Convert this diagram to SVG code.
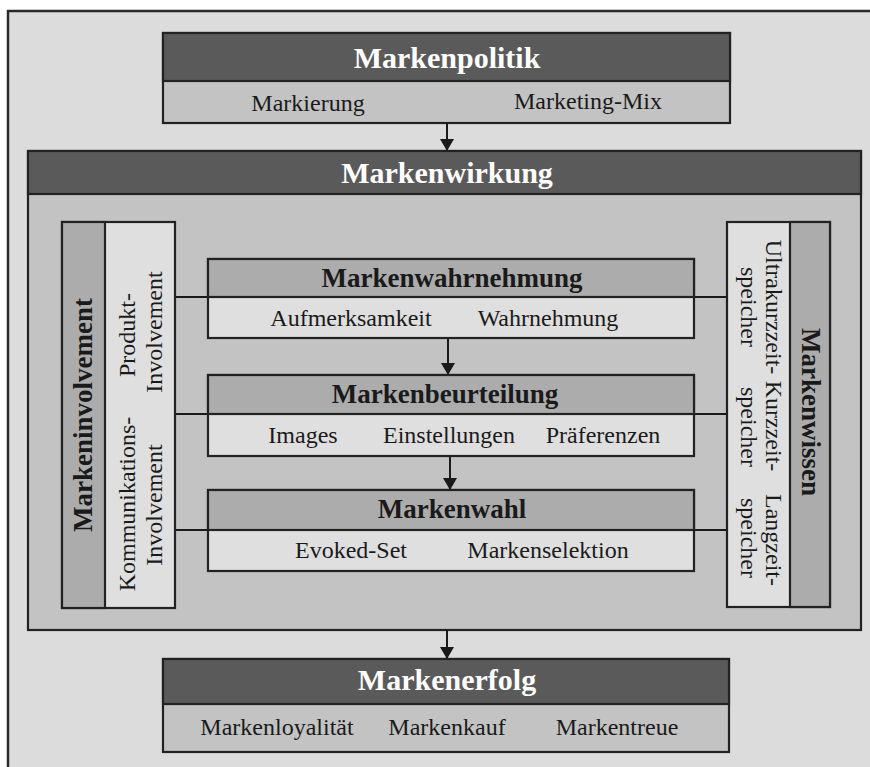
<svg xmlns="http://www.w3.org/2000/svg" width="870" height="767" viewBox="0 0 870 767">
  <defs>
    <marker id="arrow" viewBox="0 0 12 14" refX="12" refY="7" markerWidth="12" markerHeight="14" markerUnits="userSpaceOnUse" orient="auto">
      <path d="M0,0 L12,7 L0,14 Z" fill="#1a1a1a"/>
    </marker>
  </defs>
  <style>
    .box { stroke: #222; stroke-width: 2.2; }
    .dark { fill: #5a5a5a; }
    .mid { fill: #acacac; }
    .light { fill: #dfdfdf; }
    .body { fill: #c3c3c3; }
    text { font-family: "Liberation Serif", "Times New Roman", serif; text-anchor: middle; }
    .t1 { font-size: 30px; font-weight: bold; fill: #fff; }
    .t2 { font-size: 27px; font-weight: bold; fill: #1a1a1a; }
    .t3 { font-size: 24px; fill: #1a1a1a; }
    .conn { stroke: #1a1a1a; stroke-width: 2; fill: none; }
  </style>

  <!-- background frame -->
  <rect x="0" y="0" width="870" height="767" fill="#fff"/>
  <rect x="8" y="11" width="870" height="770" fill="#dcdcdc" stroke="#2a2a2a" stroke-width="2.5"/>

  <!-- Markenpolitik -->
  <g id="markenpolitik">
    <rect class="box body" x="163" y="33" width="567" height="90"/>
    <rect class="box dark" x="163" y="33" width="567" height="48"/>
    <text class="t1" x="447" y="68">Markenpolitik</text>
    <text class="t3" x="308" y="111">Markierung</text>
    <text class="t3" x="588" y="109">Marketing-Mix</text>
  </g>

  <!-- Markenwirkung container -->
  <g id="markenwirkung">
    <rect class="box body" x="28" y="151" width="833" height="479"/>
    <rect class="box dark" x="28" y="151" width="833" height="43"/>
    <text class="t1" x="447" y="183">Markenwirkung</text>
  </g>

  <!-- connectors -->
  <g id="connectors">
    <line class="conn" x1="447" y1="123" x2="447" y2="151" marker-end="url(#arrow)"/>
    <line class="conn" x1="448" y1="338" x2="448" y2="375" marker-end="url(#arrow)"/>
    <line class="conn" x1="450" y1="456" x2="450" y2="490" marker-end="url(#arrow)"/>
    <line class="conn" x1="447" y1="630" x2="447" y2="659" marker-end="url(#arrow)"/>
    <line class="conn" x1="175" y1="297" x2="208" y2="297"/>
    <line class="conn" x1="175" y1="414" x2="208" y2="414"/>
    <line class="conn" x1="175" y1="530" x2="208" y2="530"/>
    <line class="conn" x1="694" y1="297" x2="727" y2="297"/>
    <line class="conn" x1="694" y1="414" x2="727" y2="414"/>
    <line class="conn" x1="694" y1="530" x2="727" y2="530"/>
  </g>

  <!-- Markeninvolvement (left panel) -->
  <g id="markeninvolvement">
    <rect class="box light" x="62" y="222" width="113" height="386"/>
    <rect class="box mid" x="62" y="222" width="43" height="386"/>
    <text class="t2" transform="translate(92,415) rotate(-90)">Markeninvolvement</text>
    <text class="t3" transform="translate(135,335) rotate(-90)">Produkt-</text>
    <text class="t3" transform="translate(162,332) rotate(-90)">Involvement</text>
    <text class="t3" transform="translate(135,504) rotate(-90)">Kommunikations-</text>
    <text class="t3" transform="translate(162,505) rotate(-90)">Involvement</text>
  </g>

  <!-- Markenwissen (right panel) -->
  <g id="markenwissen">
    <rect class="box light" x="727" y="222" width="103" height="385"/>
    <rect class="box mid" x="790" y="222" width="40" height="385"/>
    <text class="t2" transform="translate(802,412) rotate(90)">Markenwissen</text>
    <text class="t3" transform="translate(766,307) rotate(90)">Ultrakurzzeit-</text>
    <text class="t3" transform="translate(741,307) rotate(90)">speicher</text>
    <text class="t3" transform="translate(766,426) rotate(90)">Kurzzeit-</text>
    <text class="t3" transform="translate(741,427) rotate(90)">speicher</text>
    <text class="t3" transform="translate(766,540) rotate(90)">Langzeit-</text>
    <text class="t3" transform="translate(741,538) rotate(90)">speicher</text>
  </g>

  <!-- Markenwahrnehmung -->
  <g id="markenwahrnehmung">
    <rect class="box light" x="208" y="259" width="486" height="79"/>
    <rect class="box mid" x="208" y="259" width="486" height="38"/>
    <text class="t2" x="452" y="287">Markenwahrnehmung</text>
    <text class="t3" x="351" y="326">Aufmerksamkeit</text>
    <text class="t3" x="548" y="326">Wahrnehmung</text>
  </g>

  <!-- Markenbeurteilung -->
  <g id="markenbeurteilung">
    <rect class="box light" x="208" y="375" width="486" height="81"/>
    <rect class="box mid" x="208" y="375" width="486" height="39"/>
    <text class="t2" x="445" y="403">Markenbeurteilung</text>
    <text class="t3" x="303" y="443">Images</text>
    <text class="t3" x="449" y="443">Einstellungen</text>
    <text class="t3" x="603" y="443">Präferenzen</text>
  </g>

  <!-- Markenwahl -->
  <g id="markenwahl">
    <rect class="box light" x="208" y="490" width="486" height="81"/>
    <rect class="box mid" x="208" y="490" width="486" height="40"/>
    <text class="t2" x="452" y="518">Markenwahl</text>
    <text class="t3" x="351" y="558">Evoked-Set</text>
    <text class="t3" x="548" y="558">Markenselektion</text>
  </g>

  <!-- Markenerfolg -->
  <g id="markenerfolg">
    <rect class="box body" x="163" y="659" width="566" height="93"/>
    <rect class="box dark" x="163" y="659" width="566" height="45"/>
    <text class="t1" x="447" y="690">Markenerfolg</text>
    <text class="t3" x="277" y="735">Markenloyalität</text>
    <text class="t3" x="447" y="735">Markenkauf</text>
    <text class="t3" x="617" y="735">Markentreue</text>
  </g>
</svg>
